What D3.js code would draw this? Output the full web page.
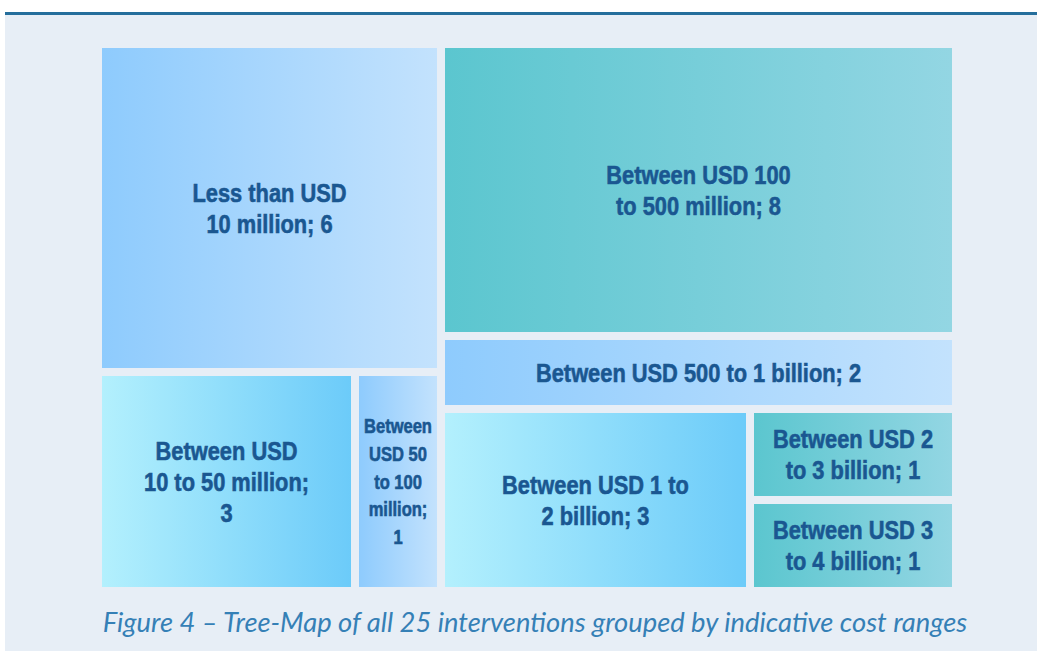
<!DOCTYPE html>
<html>
<head>
<meta charset="utf-8">
<script src="https://cdn.jsdelivr.net/npm/d3@7"></script>
<style>
    html, body { margin: 0; padding: 0; background: #ffffff; }
    svg { display: block; }
    .cell-label { font-family: "Liberation Sans", "Arial", sans-serif; font-weight: bold; fill: #1a5791; stroke: #1a5791; stroke-width: 0.6px; }
    .caption { font-family: "Lato", "Open Sans", sans-serif; font-style: italic; fill: #3580b6; }
</style>
</head>
<body>
<div id="main"></div>
<script>
const ctx = {
    W: 1037,
    H: 651,
    TM_X: 102,
    TM_Y: 48,
    TM_WIDTH: 850,
    TM_HEIGHT: 539,
    NARROW: 0.84,   // horizontal squeeze to mimic a narrow typeface
};

// cost ranges, number of interventions, and how the tree-map nests them
const categories = [
    "Less than USD 10 million",
    "Between USD 10 to 50 million",
    "Between USD 50 to 100 million",
    "Between USD 100 to 500 million",
    "Between USD 500 to 1 billion",
    "Between USD 1 to 2 billion",
    "Between USD 2 to 3 billion",
    "Between USD 3 to 4 billion"
];
const counts = [6, 3, 1, 8, 2, 3, 1, 1];
const groups = ["A", "A.B", "A.B", "C", "C", "C.D", "C.D.E", "C.D.E"];

const caption = "Figure 4 \u2013 Tree-Map of all 25 interventions grouped by indicative cost ranges";

// gradient fills (left colour, right colour)
const gradients = {
    blue: ["#8ecbfd", "#c3e2fd"],
    cyan: ["#b3f0fd", "#6ccbf9"],
    teal: ["#5bc6cf", "#93d6e3"]
};
const fillOf = {
    "Less than USD 10 million": "blue",
    "Between USD 10 to 50 million": "cyan",
    "Between USD 50 to 100 million": "blue",
    "Between USD 100 to 500 million": "teal",
    "Between USD 500 to 1 billion": "blue",
    "Between USD 1 to 2 billion": "cyan",
    "Between USD 2 to 3 billion": "teal",
    "Between USD 3 to 4 billion": "teal"
};

function buildTree() {
    const root = { name: "root", children: [] };
    const lookup = {};
    categories.forEach((c, i) => {
        let parent = root;
        let path = "";
        groups[i].split(".").forEach(part => {
            path = path ? path + "." + part : part;
            if (!lookup[path]) {
                lookup[path] = { name: path, children: [] };
                parent.children.push(lookup[path]);
            }
            parent = lookup[path];
        });
        parent.children.push({ name: c, count: counts[i] });
    });
    return root;
}

function wrapWords(text, maxWidth, measure) {
    const words = text.split(" ");
    const lines = [];
    let line = "";
    words.forEach(w => {
        const test = line ? line + " " + w : w;
        if (line && measure(test) > maxWidth) {
            lines.push(line);
            line = w;
        } else {
            line = test;
        }
    });
    if (line) lines.push(line);
    return lines;
}

// pick a wrapping whose block shape roughly follows the cell shape
function bestWrap(text, w, h, lineH, measure) {
    let best = null;
    for (let mw = 30; mw <= w - 16; mw += 4) {
        const lines = wrapWords(text, mw, measure);
        const bw = d3.max(lines, measure);
        const bh = lines.length * lineH;
        if (bw > w - 10) continue;
        const over = bh > h - 6 ? 100 : 0;
        const score = Math.abs(Math.log((bw / bh) / (1.7 * w / h))) + over;
        if (!best || score < best.score - 1e-6) best = { lines, score };
    }
    return best ? best.lines : wrapWords(text, w - 16, measure);
}

function createViz() {
    const svg = d3.select("#main").append("svg")
        .attr("width", ctx.W)
        .attr("height", ctx.H);

    // panel + top rule
    svg.append("rect")
        .attr("x", 5).attr("y", 14)
        .attr("width", ctx.W - 5).attr("height", ctx.H - 14)
        .style("fill", "#e7eef6");
    svg.append("rect")
        .attr("x", 5).attr("y", 12)
        .attr("width", ctx.W - 5).attr("height", 3)
        .style("fill", "#256e9c");

    const defs = svg.append("defs");
    Object.keys(gradients).forEach(k => {
        const g = defs.append("linearGradient")
            .attr("id", "grad-" + k)
            .attr("x1", "0%").attr("x2", "100%")
            .attr("y1", "0%").attr("y2", "0%");
        g.append("stop").attr("offset", "0%").attr("stop-color", gradients[k][0]);
        g.append("stop").attr("offset", "100%").attr("stop-color", gradients[k][1]);
    });

    const root = d3.hierarchy(buildTree())
        .sum(d => d.count ? d.count : 0);

    d3.treemap()
        .tile(d3.treemapSliceDice)
        .size([ctx.TM_WIDTH, ctx.TM_HEIGHT])
        .paddingInner(8)
        .round(true)(root);

    const chart = svg.append("g")
        .attr("transform", `translate(${ctx.TM_X},${ctx.TM_Y})`);

    const leaves = chart.selectAll("g.leaf")
        .data(root.leaves())
        .enter().append("g")
        .attr("class", "leaf")
        .attr("transform", d => `translate(${d.x0},${d.y0})`);

    leaves.append("rect")
        .attr("width", d => d.x1 - d.x0)
        .attr("height", d => d.y1 - d.y0)
        .style("fill", d => `url(#grad-${fillOf[d.data.name]})`);

    const baseSize = 26;
    const baseLineH = 31;

    // measuring helper (accounts for the horizontal squeeze)
    const probe = svg.append("text").attr("class", "cell-label");
    const measurer = fs => s => {
        probe.style("font-size", fs + "px").text(s);
        return probe.node().getComputedTextLength() * ctx.NARROW;
    };

    leaves.each(function (d) {
        const w = d.x1 - d.x0, h = d.y1 - d.y0;
        const label = d.data.name + "; " + d.data.count;
        // shrink the type if the longest word would not fit the cell
        const longest = d3.max(label.split(" "), measurer(baseSize));
        const k = Math.min(1, (w - 10) / longest);
        const fs = baseSize * k, lineH = baseLineH * Math.max(k, 0.9);
        const lines = bestWrap(label, w, h, lineH, measurer(fs));
        const top = h / 2 - (lines.length - 1) * lineH / 2;
        const t = d3.select(this).append("text")
            .attr("class", "cell-label")
            .style("font-size", fs + "px")
            .attr("text-anchor", "middle")
            .attr("transform", `translate(${w / 2},0) scale(${ctx.NARROW},1)`);
        lines.forEach((l, i) => {
            t.append("tspan")
                .attr("x", 0)
                .attr("y", top + i * lineH)
                .attr("dy", "0.36em")
                .text(l);
        });
    });
    probe.remove();

    // caption, sized to the width of the figure
    const cap = svg.append("text")
        .attr("class", "caption")
        .attr("x", 535).attr("y", 632)
        .attr("text-anchor", "middle")
        .style("font-size", "20px")
        .text(caption);
    const capW = cap.node().getComputedTextLength();
    cap.style("font-size", (20 * 865 / capW) + "px");
}

createViz();
</script>
</body>
</html>
